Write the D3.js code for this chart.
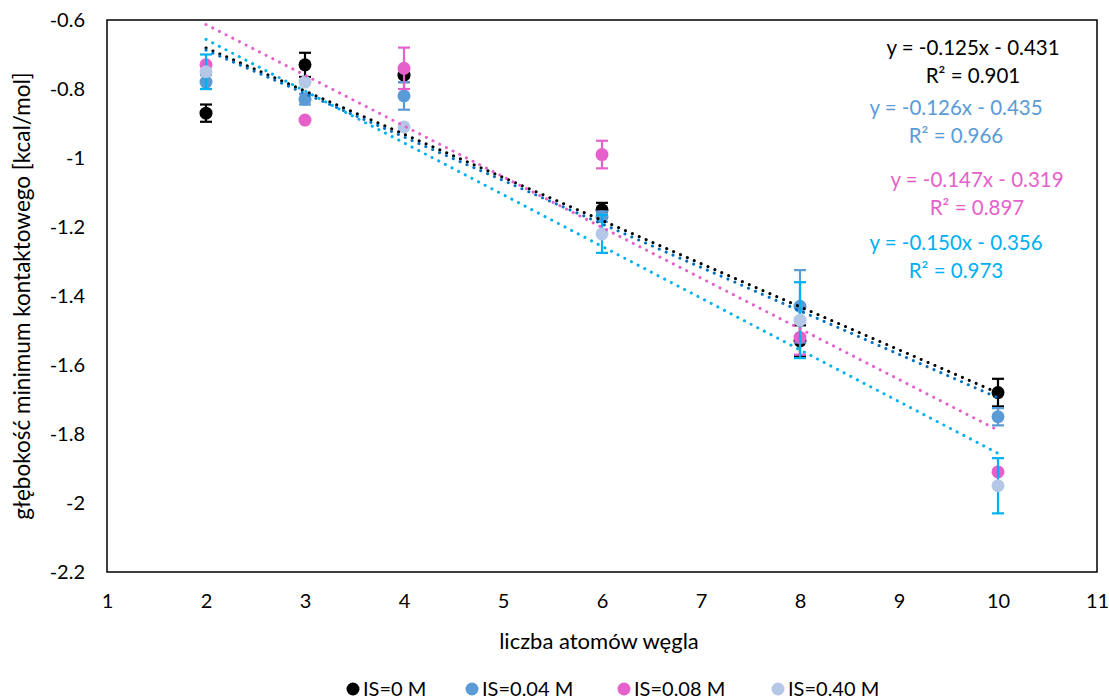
<!DOCTYPE html>
<html>
<head>
<meta charset="utf-8">
<script src="https://cdn.jsdelivr.net/npm/d3@7"></script>
<style>
  body { margin: 0; background: #fff; }
  svg { display: block; font-family: Lato, "Open Sans", sans-serif; }
</style>
</head>
<body>
<svg id="chart" width="1109" height="699"></svg>
<script>
// Number of carbon atoms (x positions of measurements)
const carbons = [2, 3, 4, 6, 8, 10];

// Contact-minimum depth [kcal/mol] for each ionic strength
const depth0   = [-0.87, -0.73, -0.76, -1.15, -1.53, -1.68];
const depth004 = [-0.78, -0.83, -0.82, -1.17, -1.43, -1.75];
const depth008 = [-0.73, -0.89, -0.74, -0.99, -1.52, -1.91];
const depth040 = [-0.75, -0.78, -0.91, -1.22, -1.47, -1.95];

// Error bar half-widths
const err0   = [0.025, 0.035, 0.02, 0.02, 0.045, 0.04];
const err004 = [0.02, 0.015, 0.04, 0.015, 0.105, 0.025];
const err008 = [0.0, 0.0, 0.06, 0.04, 0.05, 0.0];
const err040 = [0.05, 0.0, 0.0, 0.055, 0.11, 0.08];

// Linear fit coefficients [slope, intercept] and R²
const fit0   = [-0.125, -0.431], r2_0   = 0.901;
const fit004 = [-0.126, -0.435], r2_004 = 0.966;
const fit008 = [-0.147, -0.319], r2_008 = 0.897;
const fit040 = [-0.150, -0.356], r2_040 = 0.973;

const xTicks = [1, 2, 3, 4, 5, 6, 7, 8, 9, 10, 11];
const yTicks = [-0.6, -0.8, -1, -1.2, -1.4, -1.6, -1.8, -2, -2.2];

const seriesNames = ["IS=0 M", "IS=0.04 M", "IS=0.08 M", "IS=0.40 M"];

const series = [
  { name: seriesNames[0], y: depth0,   e: err0,   fit: fit0,   r2: r2_0,
    fill: "#000000", errColor: "#000000", lineColor: "#000000", textColor: "#000000",
    lx: 973, ly: 48 },
  { name: seriesNames[1], y: depth004, e: err004, fit: fit004, r2: r2_004,
    fill: "#5B9BD5", errColor: "#5B9BD5", lineColor: "#0070C0", textColor: "#5B9BD5",
    lx: 956, ly: 108 },
  { name: seriesNames[2], y: depth008, e: err008, fit: fit008, r2: r2_008,
    fill: "#E660CC", errColor: "#E660CC", lineColor: "#E660CC", textColor: "#E660CC",
    lx: 977, ly: 180 },
  { name: seriesNames[3], y: depth040, e: err040, fit: fit040, r2: r2_040,
    fill: "#B4C7E7", errColor: "#00B0F0", lineColor: "#00B0F0", textColor: "#00B0F0",
    lx: 956, ly: 243 }
];

const svg = d3.select("#chart");
const plot = { left: 107, right: 1097, top: 20, bottom: 572 };

const x = d3.scaleLinear().domain([1, 11]).range([plot.left, plot.right]);
const y = d3.scaleLinear().domain([-2.2, -0.6]).range([plot.bottom, plot.top]);

// Plot area frame
svg.append("rect")
  .attr("x", plot.left).attr("y", plot.top)
  .attr("width", plot.right - plot.left).attr("height", plot.bottom - plot.top)
  .attr("fill", "none").attr("stroke", "#000").attr("stroke-width", 1.5);

// Axes (labels only; frame supplies the lines)
const xAxis = svg.append("g")
  .attr("transform", `translate(0,${plot.bottom})`)
  .call(d3.axisBottom(x).tickValues(xTicks).tickSize(0).tickPadding(22).tickFormat(d3.format("d")));
xAxis.select(".domain").remove();
xAxis.selectAll("text").attr("font-size", 20).attr("fill", "#000").attr("font-family", "Lato");

const yAxis = svg.append("g")
  .attr("transform", `translate(${plot.left},0)`)
  .call(d3.axisLeft(y).tickValues(yTicks).tickSize(0).tickPadding(22)
    .tickFormat(d => String(d)));
yAxis.select(".domain").remove();
yAxis.selectAll("text").attr("font-size", 20).attr("fill", "#000").attr("font-family", "Lato");

// Axis titles
svg.append("text")
  .attr("x", (plot.left + plot.right) / 2 - 3).attr("y", 649)
  .attr("text-anchor", "middle").attr("font-size", 22).attr("fill", "#000")
  .text("liczba atomów węgla");

svg.append("text")
  .attr("transform", `translate(30,${(plot.top + plot.bottom) / 2}) rotate(-90)`)
  .attr("text-anchor", "middle").attr("font-size", 22.5).attr("fill", "#000")
  .text("głębokość minimum kontaktowego [kcal/mol]");

const cap = 6;
const r = 6.5;

// Error bars and markers, series by series
series.forEach(s => {
  const g = svg.append("g");
  const pts = carbons.map((c, i) => ({ c, v: s.y[i], e: s.e[i] }));
  const eb = g.selectAll(".eb").data(pts.filter(d => d.e > 0)).enter().append("g")
    .attr("stroke", s.errColor).attr("stroke-width", 2.2);
  eb.append("line")
    .attr("x1", d => x(d.c)).attr("x2", d => x(d.c))
    .attr("y1", d => y(d.v + d.e)).attr("y2", d => y(d.v - d.e));
  eb.append("line")
    .attr("x1", d => x(d.c) - cap).attr("x2", d => x(d.c) + cap)
    .attr("y1", d => y(d.v + d.e)).attr("y2", d => y(d.v + d.e));
  eb.append("line")
    .attr("x1", d => x(d.c) - cap).attr("x2", d => x(d.c) + cap)
    .attr("y1", d => y(d.v - d.e)).attr("y2", d => y(d.v - d.e));
  g.selectAll("circle").data(pts).enter().append("circle")
    .attr("cx", d => x(d.c)).attr("cy", d => y(d.v))
    .attr("r", r).attr("fill", s.fill);
});

// Dotted linear trend lines
const line = d3.line().x(d => x(d[0])).y(d => y(d[1]));
series.forEach(s => {
  const x0 = d3.min(carbons), x1 = d3.max(carbons);
  const ends = [[x0, s.fit[0] * x0 + s.fit[1]], [x1, s.fit[0] * x1 + s.fit[1]]];
  svg.append("path")
    .attr("d", line(ends))
    .attr("fill", "none").attr("stroke", s.lineColor)
    .attr("stroke-width", 3).attr("stroke-linecap", "round")
    .attr("stroke-dasharray", "0.1 7.4");
});

// Regression equations (plain hyphen-minus, as in the spreadsheet labels)
const fmt = v => v.toFixed(3);
series.forEach(s => {
  const t = svg.append("g").attr("fill", s.textColor).attr("font-size", 20.5)
    .attr("text-anchor", "middle");
  t.append("text").attr("x", s.lx).attr("y", s.ly + 7)
    .text(`y = ${fmt(s.fit[0])}x - ${fmt(-s.fit[1])}`);
  t.append("text").attr("x", s.lx).attr("y", s.ly + 35)
    .text(`R² = ${fmt(s.r2)}`);
});

// Legend
const legendX = [353, 472, 624, 778];
const lg = svg.append("g");
series.forEach((s, i) => {
  lg.append("circle").attr("cx", legendX[i]).attr("cy", 689).attr("r", 6.5).attr("fill", s.fill);
  lg.append("text").attr("x", legendX[i] + 10).attr("y", 696)
    .attr("font-size", 20).attr("fill", "#000").text(s.name);
});
</script>
</body>
</html>
